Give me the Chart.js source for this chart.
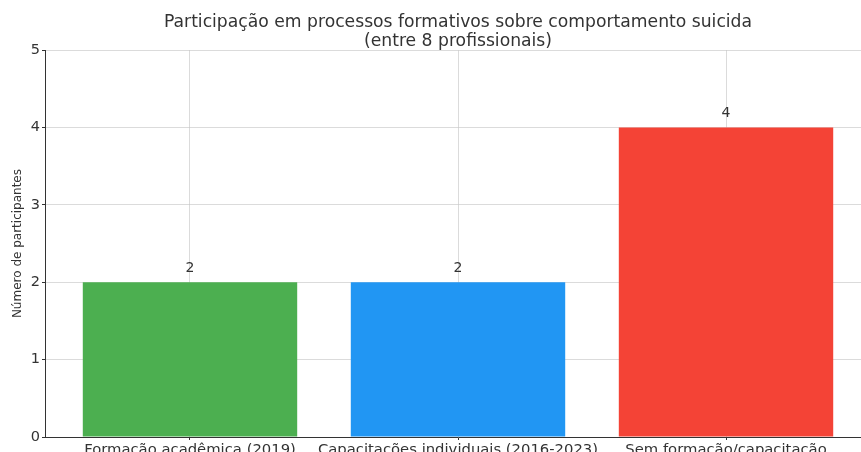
<!DOCTYPE html>
<html>
<head>
<meta charset="utf-8">
<script src="https://cdn.jsdelivr.net/npm/chart.js@4/dist/chart.umd.min.js"></script>
<style>
  html, body { margin: 0; padding: 0; background: #fff; overflow: hidden; }
  #wrap { width: 871px; height: 452px; position: relative; }
</style>
</head>
<body>
<div id="wrap"><canvas id="chart"></canvas></div>
<script>
// --- DATA ---
const categories = ["Formação acadêmica (2019)", "Capacitações individuais (2016-2023)", "Sem formação/capacitação"];
const participants = [2, 2, 4];
const barColors = ["#4caf50", "#2196f3", "#f44336"];
const yTicks = [0, 1, 2, 3, 4, 5];

const FONT = "'DejaVu Sans', sans-serif";
const INK = "#333";

// value written above each bar
const barValues = {
    id: "barValues",
    afterDatasetsDraw(chart) {
        const { ctx } = chart;
        ctx.save();
        ctx.font = `14px ${FONT}`;
        ctx.fillStyle = INK;
        ctx.textAlign = "center";
        ctx.textBaseline = "bottom";
        chart.getDatasetMeta(0).data.forEach((bar, i) => {
            ctx.fillText(String(participants[i]), bar.x, bar.y - 7);
        });
        ctx.restore();
    }
};

const grid = {
    color: "rgba(195,195,195,0.6)", lineWidth: 1, borderDash: [2, 2],
    tickLength: 3, tickColor: INK, tickBorderDash: [], offset: false
};

new Chart(document.getElementById("chart"), {
    type: "bar",
    data: {
        datasets: [{
            data: participants.map((v, i) => ({ x: i, y: v })),
            backgroundColor: barColors,
            borderWidth: 0,
            barPercentage: 0.8,
            categoryPercentage: 1
        }]
    },
    options: {
        responsive: true,
        maintainAspectRatio: false,
        animation: false,
        layout: { padding: 0 },
        plugins: {
            legend: { display: false },
            tooltip: { enabled: false },
            title: {
                display: true,
                fullSize: false,
                text: ["Participação em processos formativos sobre comportamento suicida", "(entre 8 profissionais)"],
                color: INK,
                font: { family: FONT, size: 17.2, weight: "normal", lineHeight: 1.05 },
                padding: { top: 14, bottom: 0 }
            }
        },
        scales: {
            x: {
                type: "linear",
                min: -0.541,
                max: 2.541,
                offset: false,
                z: 1,
                afterBuildTicks: s => { s.ticks = categories.map((_, i) => ({ value: i })); },
                afterFit: s => { s.height = 15; },
                grid,
                border: { display: true, color: INK, width: 1 },
                ticks: {
                    color: INK, padding: 1, maxRotation: 0, autoSkip: false,
                    font: { family: FONT, size: 14.8 },
                    callback: v => categories[v] ?? ""
                }
            },
            y: {
                min: 0,
                max: 5,
                z: 1,
                afterBuildTicks: s => { s.ticks = yTicks.map(v => ({ value: v })); },
                afterFit: s => { s.width = 45; },
                grid,
                border: { display: true, color: INK, width: 1 },
                ticks: { color: INK, padding: 2, font: { family: FONT, size: 14.5 } },
                title: {
                    display: true,
                    text: "Número de participantes",
                    color: INK,
                    font: { family: FONT, size: 12 },
                    padding: { top: 11, bottom: 0 }
                }
            }
        }
    },
    plugins: [barValues]
});
</script>
</body>
</html>
